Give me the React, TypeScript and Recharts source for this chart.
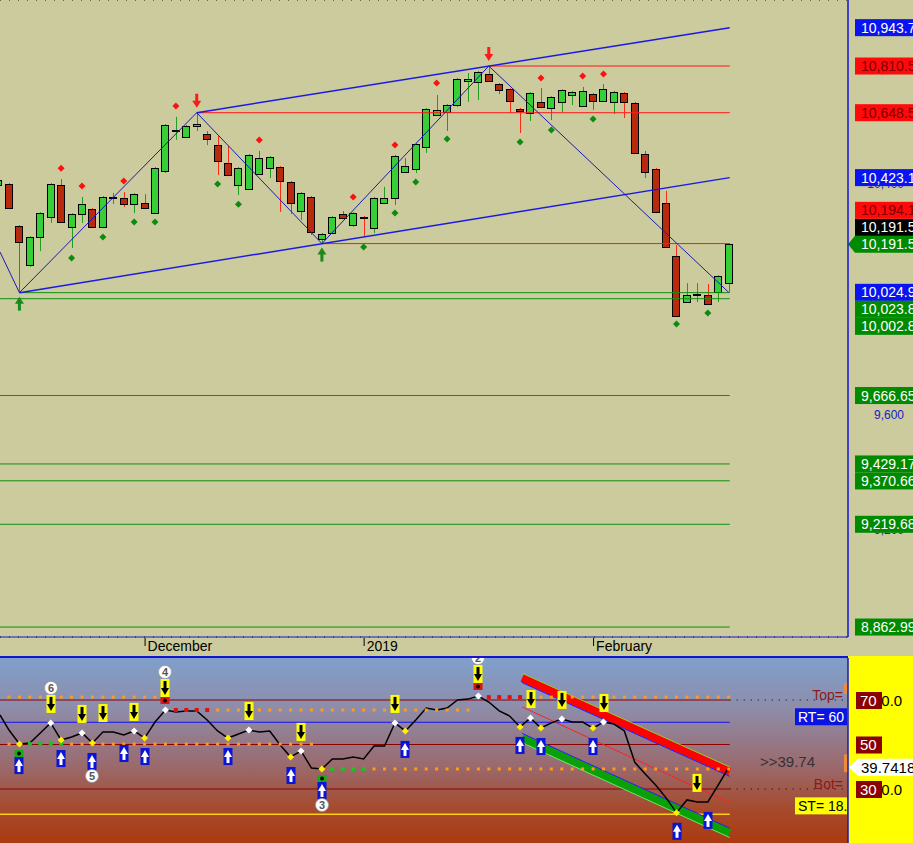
import React from 'react';
import {
  ComposedChart,
  Bar,
  Line,
  Scatter,
  XAxis,
  YAxis,
  ReferenceLine,
  CartesianGrid,
} from 'recharts';

const FONT = '"Liberation Sans", Arial, sans-serif';

// ---------- price panel data (bar index -1 is the half-visible bar at the left edge) ----------
const FIRST_BAR = -1;
const OPEN = [
  10397, 10401, 10255, 10120, 10217, 10286, 10398, 10252, 10297, 10314, 10252,
  10354, 10352, 10332, 10335, 10300, 10446, 10587, 10564, 10602, 10575,
  10536, 10474, 10398, 10384, 10436, 10457, 10460, 10408, 10307, 10356,
  10210, 10231, 10297, 10259, 10286, 10248, 10335, 10352, 10443, 10453,
  10529, 10640, 10651, 10675, 10758, 10755, 10783, 10748, 10731, 10661,
  10647, 10686, 10665, 10686, 10710, 10672, 10713, 10689, 10686, 10717,
  10682, 10505, 10453, 10335, 10151, 9991, 10017, 10016, 10026, 10057,
];
const HIGH = [
  10420, 10404, 10258, 10220, 10303, 10404, 10418, 10300, 10356, 10318, 10359,
  10370, 10373, 10369, 10366, 10460, 10609, 10634, 10606, 10648.5, 10585,
  10568, 10533, 10460, 10505, 10516, 10498, 10463, 10411, 10373, 10359,
  10231, 10290, 10307, 10303, 10290, 10356, 10391, 10502, 10491, 10543,
  10665, 10710, 10679, 10769, 10786, 10793, 10810.5, 10751, 10734, 10665,
  10720, 10734, 10706, 10730, 10724, 10738, 10717, 10748, 10724, 10720,
  10686, 10516, 10457, 10377, 10189, 10057, 10057, 10054, 10085, 10196,
];
const LOW = [
  10390, 10314, 10023.8, 10113, 10168, 10266, 10266, 10179, 10266, 10248, 10248,
  10332, 10321, 10300, 10314, 10297, 10439, 10554, 10560, 10585, 10536,
  10432, 10428, 10363, 10380, 10432, 10422, 10304, 10297, 10276, 10224,
  10194.1, 10227, 10279, 10252, 10217, 10231, 10332, 10328, 10439, 10439,
  10509, 10637, 10585, 10668, 10686, 10693, 10755, 10713, 10647, 10578,
  10620, 10665, 10623, 10651, 10675, 10668, 10658, 10686, 10644, 10630,
  10505, 10422, 10300, 10179, 9939, 9988, 9991, 9981, 9991, 10023,
];
const CLOSE = [
  10415, 10318, 10200, 10217, 10300, 10401, 10269, 10297, 10332, 10252, 10356,
  10357, 10332, 10366, 10318, 10457, 10606, 10590, 10602, 10609, 10557,
  10481, 10432, 10457, 10502, 10491, 10495, 10411, 10335, 10370, 10234,
  10227, 10286, 10283, 10300, 10283, 10352, 10352, 10498, 10463, 10540,
  10661, 10658, 10675, 10765, 10765, 10790, 10758, 10727, 10689, 10654,
  10717, 10668, 10703, 10727, 10720, 10724, 10689, 10731, 10720, 10686,
  10509, 10443, 10304, 10182, 9943, 10016, 10020, 9984, 10082, 10191.5,
];

const MONTH_TICKS = [13, 34, 56];
const MONTH_LABELS = ['December', '2019', 'February'];
const PRICE_TICKS = [9200, 9600, 10000, 10400, 10800];

const RED_DOT_BARS = [5, 7, 11, 16, 24, 33, 37, 41, 51, 55, 57];
const RED_DOT_PRICES = [10456, 10394, 10411, 10672, 10554, 10356, 10536, 10752, 10769, 10776, 10783];
const GREEN_DOT_BARS = [6, 9, 12, 14, 20, 22, 34, 37, 39, 42, 49, 52, 56, 64, 67];
const GREEN_DOT_PRICES = [10144, 10217, 10269, 10269, 10401, 10331, 10182, 10300, 10408, 10557, 10547, 10588, 10627, 9915, 9953];

const PIVOT_HIGH_BARS = [18, 46];
const PIVOT_LOW_BARS = [1, 30];

const ZIGZAG_BARS = [-0.863, 1, 18, 30, 46, 69];
const ZIGZAG_PRICES = [10165, 10023.8, 10648.5, 10194.1, 10810.5, 10024.9];

const UPPER_CHANNEL = [[18, 10648.5], [69.1, 10943.7]];
const LOWER_CHANNEL = [[1, 10023.8], [69.1, 10423.1]];

const RED_LEVELS = [[46, 10810.5], [18, 10648.5], [30, 10194.1]];
const GREEN_LEVELS = [
  [1, 10023.8], [-0.863, 10002.8], [-0.863, 9666.65], [-0.863, 9429.17],
  [-0.863, 9370.66], [-0.863, 9219.68], [-0.863, 8862.99],
];

// right-hand price tags, in the order they claim their slot
const PRICE_TAGS = [
  { price: 10943.7, text: '10,943.7', tone: 'blue' },
  { price: 10810.5, text: '10,810.5', tone: 'red' },
  { price: 10648.5, text: '10,648.5', tone: 'red' },
  { price: 10423.1, text: '10,423.1', tone: 'blue' },
  { price: 10191.5, text: '10,191.5', tone: 'current' },
  { price: 10191.5, text: '10,191.5', tone: 'black' },
  { price: 10194.1, text: '10,194.1', tone: 'red' },
  { price: 10024.9, text: '10,024.9', tone: 'blue' },
  { price: 10023.8, text: '10,023.8', tone: 'green' },
  { price: 10002.8, text: '10,002.8', tone: 'green' },
  { price: 9666.65, text: '9,666.65', tone: 'green' },
  { price: 9429.17, text: '9,429.17', tone: 'green' },
  { price: 9370.66, text: '9,370.66', tone: 'green' },
  { price: 9219.68, text: '9,219.68', tone: 'green' },
  { price: 8862.99, text: '8,862.99', tone: 'green' },
];

// ---------- oscillator panel data ----------
const OSC_LEAD = 63.3; // value where the line enters at the left edge
const OSC = [
  56.5, 50.2, 50.7, 55.2, 59.7, 52.0, 53.4, 55.2, 50.7, 55.6,
  55.6, 54.3, 56.1, 52.9, 60.1, 65.5, 64.6, 65.1, 65.1, 61.0,
  56.1, 52.9, 54.7, 56.5, 55.6, 56.1, 49.8, 44.4, 47.1, 39.4,
  39.0, 43.5, 43.5, 44.4, 43.5, 49.3, 49.3, 59.7, 56.1, 61.0,
  66.4, 65.5, 66.4, 70.0, 70.4, 71.8, 69.1, 65.1, 62.8, 57.9,
  61.9, 57.4, 59.7, 61.5, 60.1, 60.1, 57.4, 60.1, 59.2, 56.1,
  42.0, 36.7, 31.8, 26.0, 19.3, 25.1, 24.2, 24.2, 31.8, 39.7418,
];
const OSC_PEAKS = [4, 7, 12, 15, 23, 28, 37, 45, 50, 53, 57];
const OSC_TROUGHS = [1, 5, 8, 13, 21, 27, 30, 38, 49, 51, 56, 64];
const SELL_BARS = [4, 7, 9, 12, 15, 23, 28, 37, 45, 50, 53, 57, 66];
const BUY_BARS = [1, 5, 8, 11, 13, 21, 27, 30, 38, 49, 51, 56, 64, 67];
const SELL_CONFIRM = [15, 45];
const BUY_CONFIRM = [1, 30];
const SIGNAL_NUMBERS = [[4, '6'], [15, '4'], [45, '2'], [8, '5'], [30, '3']];

const UPPER_STEPS = [[0, 71.3], [16, 65.5], [46, 71.3]];
const UPPER_SKIP = [15, 45];
const UPPER_FRESH = [16, 17, 18, 19, 46, 47, 48, 49];
const LOWER_STEPS = [[0, 50.2], [31, 39.0]];
const LOWER_SKIP = [30];
const LOWER_FRESH = [2, 3, 4, 5, 31, 32, 33, 34];

const CHANNEL_BARS = [49.2, 69.1];
const RED_BAND = [79.9, 37.8];
const RED_BAND_UPPER = [82.0, 39.9];
const RED_BAND_LOWER = [77.8, 35.7];
const RED_MID_LINE = [66.9, 23.7];
const GREEN_BAND = [52.9, 10.3];
const GREEN_BAND_UPPER = [55.0, 12.4];
const GREEN_BAND_LOWER = [50.8, 8.2];

const OSC_TOP = 70;
const OSC_MID = 50;
const OSC_BOT = 30;
const RT_LEVEL = 60;
const ST_LEVEL = 18.6;
const OSC_LAST = 39.7418;

// ---------- layout ----------
const W = 913;
const AXIS_W = 65;
const TOP_H = 656;
const X_AXIS_H = 19;
const BOT_H = 185;
const X_DOMAIN: [number, number] = [-0.863, 80.44];
const LEVEL_END = 69.1;
const PRICE_DOMAIN: [number, number] = [8828.4, 11039.7];
const OSC_DOMAIN: [number, number] = [5.73, 88.88];
const TAG_PX = 17;

const KHAKI = '#cbcb9d';
const AXIS_BLUE = '#1414d2';

const candles = OPEN.map((o, k) => ({
  i: FIRST_BAR + k,
  o,
  h: HIGH[k],
  l: LOW[k],
  c: CLOSE[k],
  range: [LOW[k], HIGH[k]],
}));
const candleAt = (i: number) => candles[i - FIRST_BAR];

const redDots = RED_DOT_BARS.map((i, k) => ({ i, v: RED_DOT_PRICES[k] }));
const greenDots = GREEN_DOT_BARS.map((i, k) => ({ i, v: GREEN_DOT_PRICES[k] }));
const pivotHighs = PIVOT_HIGH_BARS.map((i) => ({ i, v: candleAt(i).h }));
const pivotLows = PIVOT_LOW_BARS.map((i) => ({ i, v: candleAt(i).l }));
const zigzag = ZIGZAG_BARS.map((i, k) => ({ i, v: ZIGZAG_PRICES[k] }));

function layoutTags() {
  const step = (TAG_PX * (PRICE_DOMAIN[1] - PRICE_DOMAIN[0])) / (TOP_H - X_AXIS_H);
  const placed: { price: number; shown: number }[] = [];
  return PRICE_TAGS.map((t) => {
    let shown = t.price;
    for (let n = 0; n < 20; n++) {
      const hit = placed.find((p) => Math.abs(p.shown - shown) < step - 1e-6);
      if (!hit) break;
      shown = hit.shown + (t.price < hit.price ? -step : step);
    }
    placed.push({ price: t.price, shown });
    return { ...t, shown };
  });
}
const tags = layoutTags();

const oscRows = [{ i: X_DOMAIN[0], v: OSC_LEAD }, ...OSC.map((v, i) => ({ i, v }))];
const pick = (bars: number[]) => bars.map((i) => ({ i, v: OSC[i] }));
const numberAt = (i: number) => {
  const hit = SIGNAL_NUMBERS.find((s) => s[0] === i);
  return hit ? String(hit[1]) : null;
};
const sells = SELL_BARS.map((i) => ({ i, v: OSC[i], confirm: SELL_CONFIRM.includes(i), num: numberAt(i) }));
const buys = BUY_BARS.map((i) => ({ i, v: OSC[i], confirm: BUY_CONFIRM.includes(i), num: numberAt(i) }));

function stepDots(steps: number[][], skip: number[], fresh: number[]) {
  const out: { i: number; v: number; fresh: boolean }[] = [];
  for (let i = 0; i < OSC.length; i++) {
    if (skip.includes(i)) continue;
    let v = steps[0][1];
    for (const [s, val] of steps) if (i >= s) v = val;
    out.push({ i, v, fresh: fresh.includes(i) });
  }
  return out;
}
const upperDots = stepDots(UPPER_STEPS, UPPER_SKIP, UPPER_FRESH);
const lowerDots = stepDots(LOWER_STEPS, LOWER_SKIP, LOWER_FRESH);

const chSeg = (vals: number[]) => [
  { x: CHANNEL_BARS[0], y: vals[0] },
  { x: CHANNEL_BARS[1], y: vals[1] },
];

// ---------- shapes ----------
function renderCandle(p: any) {
  const { x, y, width, height, payload } = p;
  if (!payload || !Number.isFinite(y) || !Number.isFinite(height)) return <g />;
  const { o, h, l, c } = payload;
  const top = Math.min(y, y + height);
  const span = Math.abs(height);
  const k = h > l ? span / (h - l) : 0;
  const cx = Math.round(x + width / 2) + 0.5;
  const yo = top + (h - o) * k;
  const yc = top + (h - c) * k;
  const up = c >= o;
  const bodyTop = Math.round(Math.min(yo, yc)) + 0.5;
  const bodyH = Math.max(Math.round(Math.abs(yo - yc)), 1);
  return (
    <g>
      <line x1={cx} x2={cx} y1={top} y2={top + span} stroke={up ? '#1f9d1f' : '#ff2a14'} strokeWidth={1} />
      <rect x={cx - 4} y={bodyTop} width={7} height={bodyH} fill={up ? '#36cf36' : '#b82a0e'} stroke="#000" strokeWidth={1} />
    </g>
  );
}

const diamond = (fill: string, r: number, stroke = 'none') => (p: any) => (
  <path
    d={`M${p.cx},${p.cy - r}L${p.cx + r},${p.cy}L${p.cx},${p.cy + r}L${p.cx - r},${p.cy}Z`}
    fill={fill}
    stroke={stroke}
    strokeWidth={0.6}
  />
);

const downArrow = (p: any) => {
  const cx = p.cx;
  const tip = p.cy - 5;
  return (
    <g fill="#ff1a1a">
      <rect x={cx - 1.5} y={tip - 14} width={3} height={8} />
      <path d={`M${cx - 4.5},${tip - 7}L${cx + 4.5},${tip - 7}L${cx},${tip}Z`} />
    </g>
  );
};

const upArrow = (p: any) => {
  const cx = p.cx;
  const tip = p.cy + 4;
  return (
    <g fill="#1a8a1a">
      <path d={`M${cx - 4.5},${tip + 7}L${cx + 4.5},${tip + 7}L${cx},${tip}Z`} />
      <rect x={cx - 1.5} y={tip + 6} width={3} height={8} />
    </g>
  );
};

const numberBadge = (cx: number, cy: number, n: string) => (
  <g>
    <circle cx={cx} cy={cy} r={6.5} fill="#fff" stroke="#9a9a9a" strokeWidth={0.8} />
    <text x={cx} y={cy + 4} textAnchor="middle" fontSize={11} fontWeight="bold" fill="#555" fontFamily={FONT}>
      {n}
    </text>
  </g>
);

const sellShape = (p: any) => {
  const cx = Math.round(p.cx);
  const { confirm, num } = p.payload;
  let bottom = p.cy - (confirm ? 6 : 10);
  const parts: React.ReactNode[] = [];
  if (confirm) {
    parts.push(<rect key="c" x={cx - 4.5} y={bottom - 7} width={9} height={7} fill="#e01010" />);
    parts.push(<circle key="cd" cx={cx} cy={bottom - 3.5} r={2} fill="#000" />);
    bottom -= 7;
  }
  parts.push(<rect key="b" x={cx - 4.5} y={bottom - 18} width={9} height={18} fill="#ffff00" />);
  parts.push(<rect key="s" x={cx - 1.5} y={bottom - 16} width={3} height={8} fill="#000" />);
  parts.push(<path key="h" d={`M${cx - 4},${bottom - 9}L${cx + 4},${bottom - 9}L${cx},${bottom - 2}Z`} fill="#000" />);
  if (num) parts.push(<g key="n">{numberBadge(cx, bottom - 25, num)}</g>);
  return <g>{parts}</g>;
};

const buyShape = (p: any) => {
  const cx = Math.round(p.cx);
  const { confirm, num } = p.payload;
  let top = p.cy + (confirm ? 6 : 10);
  const parts: React.ReactNode[] = [];
  if (confirm) {
    parts.push(<rect key="c" x={cx - 4.5} y={top} width={9} height={7} fill="#10b010" />);
    parts.push(<circle key="cd" cx={cx} cy={top + 3.5} r={2} fill="#000" />);
    top += 7;
  }
  parts.push(<rect key="b" x={cx - 4.5} y={top} width={9} height={17} fill="#0a14d8" />);
  parts.push(<path key="h" d={`M${cx - 4},${top + 9}L${cx + 4},${top + 9}L${cx},${top + 2}Z`} fill="#fff" />);
  parts.push(<rect key="s" x={cx - 1.5} y={top + 8} width={3} height={7} fill="#fff" />);
  if (num) parts.push(<g key="n">{numberBadge(cx, top + 23, num)}</g>);
  return <g>{parts}</g>;
};

const levelDot = (freshColor: string) => (p: any) => {
  const fresh = p.payload.fresh;
  const s = fresh ? 4 : 3;
  return <rect x={p.cx - s / 2} y={p.cy - s / 2} width={s} height={s} fill={fresh ? freshColor : '#ff9a1e'} />;
};

// ---------- ticks and tags ----------
const MonthTick = (props: any) => {
  const { x, y, payload } = props;
  const k = MONTH_TICKS.indexOf(payload.value);
  return (
    <g>
      <line x1={x + 0.5} x2={x + 0.5} y1={y + 1} y2={y + 9} stroke="#000" />
      <text x={x + 3} y={y + 14} fontSize={14} fill="#000" fontFamily={FONT}>
        {MONTH_LABELS[k]}
      </text>
    </g>
  );
};

// axis numbers are drawn as reference labels so the price tags can cover them
const priceTickLabel = (value: number) => (p: any) => {
  const vb = p.viewBox;
  if (!vb) return null;
  const r = vb.x + vb.width;
  return (
    <text x={r + 56} y={vb.y + 4} textAnchor="end" fontSize={12} fill="#2020c0" fontFamily={FONT}>
      {value.toLocaleString('en-US')}
    </text>
  );
};

const TAG_COLORS: Record<string, [string, string]> = {
  blue: ['#0a14f0', '#ffffff'],
  red: ['#ff0a0a', '#7a0000'],
  green: ['#008a00', '#ffffff'],
  black: ['#000000', '#ffffff'],
  current: ['#008a00', '#ffffff'],
};

function PriceTag({ viewBox, tag }: any) {
  if (!viewBox) return null;
  const right = viewBox.x + viewBox.width;
  const yc = viewBox.y;
  const [bg, fg] = TAG_COLORS[tag.tone];
  const left = right + 7;
  return (
    <g>
      {tag.tone === 'current' ? (
        <path d={`M${right},${yc}L${left},${yc - 8.5}L${W},${yc - 8.5}L${W},${yc + 8.5}L${left},${yc + 8.5}Z`} fill={bg} />
      ) : (
        <rect x={left} y={yc - 8.5} width={W - left} height={17} fill={bg} />
      )}
      <text x={left + 6} y={yc + 5} fontSize={14} fill={fg} fontFamily={FONT}>
        {tag.text}
      </text>
    </g>
  );
}

const boxLabel = (text: string, tail: string | null, note: string | null) => (p: any) => {
  const vb = p.viewBox;
  if (!vb) return null;
  const r = vb.x + vb.width;
  const y = vb.y;
  return (
    <g fontFamily={FONT}>
      {note && (
        <text x={r - 5} y={y} textAnchor="end" fontSize={14} fill="#8b1a1a">
          {note}
        </text>
      )}
      {tail && (
        <text x={r + 25} y={y + 5.5} fontSize={15} fill="#000">
          {tail}
        </text>
      )}
      <rect x={r + 8} y={y - 8} width={26} height={17} fill="#8b0000" />
      <text x={r + 12} y={y + 5.5} fontSize={15} fill="#fff">
        {text}
      </text>
    </g>
  );
};

const rtLabel = (p: any) => {
  const vb = p.viewBox;
  if (!vb) return null;
  const r = vb.x + vb.width;
  const y = vb.y;
  return (
    <g fontFamily={FONT}>
      <rect x={r - 53} y={y - 14} width={52} height={17} fill="#0a14e0" />
      <text x={r - 50} y={y - 0.5} fontSize={14} fill="#fff">
        RT= 60
      </text>
    </g>
  );
};

const stLabel = (p: any) => {
  const vb = p.viewBox;
  if (!vb) return null;
  const r = vb.x + vb.width;
  const y = vb.y;
  return (
    <g fontFamily={FONT}>
      <defs>
        <clipPath id="st-clip">
          <rect x={r - 53} y={y - 17} width={52} height={17} />
        </clipPath>
      </defs>
      <rect x={r - 53} y={y - 17} width={52} height={17} fill="#ffff00" />
      <text x={r - 50} y={y - 3.5} fontSize={14} fill="#000" clipPath="url(#st-clip)">
        {`ST= ${ST_LEVEL}`}
      </text>
    </g>
  );
};

const lastLabel = (p: any) => {
  const vb = p.viewBox;
  if (!vb) return null;
  const r = vb.x + vb.width;
  const y = vb.y;
  return (
    <g fontFamily={FONT}>
      <text x={r - 88} y={y} fontSize={15} fill="#333">
        {`>>${OSC_LAST.toFixed(2)}`}
      </text>
      <rect x={r - 4} y={y - 13} width={4} height={18} fill="#f08a3c" />
      <path d={`M${r + 1},${y}L${r + 10},${y - 8.5}L${W},${y - 8.5}L${W},${y + 8.5}L${r + 10},${y + 8.5}Z`} fill="#fff" />
      <text x={r + 13} y={y + 5.5} fontSize={15} fill="#000">
        {String(OSC_LAST)}
      </text>
    </g>
  );
};

const topMarker = (p: any) => {
  const vb = p.viewBox;
  if (!vb) return null;
  const r = vb.x + vb.width;
  return <rect x={r - 4} y={vb.y - 17} width={4} height={11} fill="#f08a3c" />;
};

// ---------- panels ----------
function PricePanel() {
  return (
    <ComposedChart width={W} height={TOP_H} data={candles} margin={{ top: 0, right: 0, bottom: 0, left: 0 }}>
      <CartesianGrid vertical={false} stroke="#000" strokeDasharray="1 8" />
      <XAxis
        type="number"
        dataKey="i"
        domain={X_DOMAIN}
        allowDataOverflow
        ticks={MONTH_TICKS}
        interval={0}
        height={X_AXIS_H}
        axisLine={{ stroke: AXIS_BLUE }}
        tickLine={false}
        tickSize={0}
        tickMargin={0}
        tick={<MonthTick />}
      />
      <YAxis
        orientation="right"
        width={AXIS_W}
        domain={PRICE_DOMAIN}
        allowDataOverflow
        ticks={PRICE_TICKS}
        interval={0}
        axisLine={{ stroke: AXIS_BLUE, strokeWidth: 1.5 }}
        tickLine={{ stroke: '#000' }}
        tickSize={5}
        tick={false}
      />
      {GREEN_LEVELS.map(([from, price], k) => (
        <ReferenceLine
          key={`g${k}`}
          ifOverflow="visible"
          segment={[{ x: from, y: price }, { x: LEVEL_END, y: price }]}
          stroke="#119011"
          strokeWidth={1}
        />
      ))}
      {RED_LEVELS.map(([from, price], k) => (
        <ReferenceLine
          key={`r${k}`}
          ifOverflow="visible"
          segment={[{ x: from, y: price }, { x: LEVEL_END, y: price }]}
          stroke="#ff1a1a"
          strokeWidth={1}
        />
      ))}
      {[UPPER_CHANNEL, LOWER_CHANNEL].map((ch, k) => (
        <ReferenceLine
          key={`ch${k}`}
          ifOverflow="visible"
          segment={[{ x: ch[0][0], y: ch[0][1] }, { x: ch[1][0], y: ch[1][1] }]}
          stroke="#1a1ae6"
          strokeWidth={1.5}
        />
      ))}
      <Line data={zigzag} dataKey="v" stroke="#1a1ab4" strokeWidth={1} dot={false} activeDot={false} isAnimationActive={false} />
      <Bar dataKey="range" barSize={8} shape={renderCandle} isAnimationActive={false} />
      <Scatter data={redDots} dataKey="v" shape={diamond('#ff1010', 3.5)} isAnimationActive={false} />
      <Scatter data={greenDots} dataKey="v" shape={diamond('#0c8c0c', 3.5)} isAnimationActive={false} />
      <Scatter data={pivotHighs} dataKey="v" shape={downArrow} isAnimationActive={false} />
      <Scatter data={pivotLows} dataKey="v" shape={upArrow} isAnimationActive={false} />
      {PRICE_TICKS.map((v) => (
        <ReferenceLine key={`pt${v}`} y={v} stroke="none" ifOverflow="visible" label={priceTickLabel(v)} />
      ))}
      {tags.map((t, k) => (
        <ReferenceLine
          key={`t${k}`}
          y={t.shown}
          stroke="none"
          ifOverflow="visible"
          label={(p: any) => <PriceTag viewBox={p.viewBox} tag={t} />}
        />
      ))}
    </ComposedChart>
  );
}

function OscPanel() {
  const hLine = (v: number, color: string, width = 1) => (
    <ReferenceLine
      ifOverflow="visible"
      segment={[{ x: X_DOMAIN[0], y: v }, { x: LEVEL_END, y: v }]}
      stroke={color}
      strokeWidth={width}
    />
  );
  const dotted = (v: number) => (
    <ReferenceLine
      ifOverflow="visible"
      segment={[{ x: LEVEL_END, y: v }, { x: X_DOMAIN[1], y: v }]}
      stroke="#000"
      strokeDasharray="1 6"
    />
  );
  return (
    <ComposedChart width={W} height={BOT_H} data={oscRows} margin={{ top: 0, right: 0, bottom: 0, left: 0 }}>
      <XAxis type="number" dataKey="i" domain={X_DOMAIN} allowDataOverflow hide />
      <YAxis
        orientation="right"
        width={AXIS_W}
        domain={OSC_DOMAIN}
        allowDataOverflow
        tick={false}
        tickLine={false}
        axisLine={{ stroke: AXIS_BLUE, strokeWidth: 1.5 }}
      />
      {hLine(OSC_TOP, '#8b0000')}
      {hLine(RT_LEVEL, '#1010ff')}
      {hLine(OSC_MID, '#8b0000')}
      {hLine(OSC_BOT, '#8b0000')}
      {hLine(ST_LEVEL, '#ffcf10', 1.5)}
      {dotted(OSC_TOP)}
      {dotted(OSC_BOT)}
      <ReferenceLine ifOverflow="visible" segment={chSeg(RED_BAND)} stroke="#ff0000" strokeWidth={8} />
      <ReferenceLine ifOverflow="visible" segment={chSeg(RED_BAND_UPPER)} stroke="#9cc820" strokeWidth={1} />
      <ReferenceLine ifOverflow="visible" segment={chSeg(RED_BAND_LOWER)} stroke="#2020ff" strokeWidth={1} />
      <ReferenceLine ifOverflow="visible" segment={chSeg(RED_MID_LINE)} stroke="#ff2020" strokeWidth={1} />
      <ReferenceLine ifOverflow="visible" segment={chSeg(GREEN_BAND)} stroke="#0aa00a" strokeWidth={8} />
      <ReferenceLine ifOverflow="visible" segment={chSeg(GREEN_BAND_UPPER)} stroke="#2020ff" strokeWidth={1} />
      <ReferenceLine ifOverflow="visible" segment={chSeg(GREEN_BAND_LOWER)} stroke="#60f060" strokeWidth={1} />
      <Scatter data={upperDots} dataKey="v" shape={levelDot('#e01010')} isAnimationActive={false} />
      <Scatter data={lowerDots} dataKey="v" shape={levelDot('#20c020')} isAnimationActive={false} />
      <Line dataKey="v" stroke="#000" strokeWidth={1.5} dot={false} activeDot={false} isAnimationActive={false} />
      <Scatter data={sells} dataKey="v" shape={sellShape} isAnimationActive={false} />
      <Scatter data={buys} dataKey="v" shape={buyShape} isAnimationActive={false} />
      <Scatter data={pick(OSC_PEAKS)} dataKey="v" shape={diamond('#ffffff', 3.5)} isAnimationActive={false} />
      <Scatter data={pick(OSC_TROUGHS)} dataKey="v" shape={diamond('#ffee00', 3.5)} isAnimationActive={false} />
      <ReferenceLine y={OSC_TOP} stroke="none" ifOverflow="visible" label={boxLabel('70', '70.0', 'Top=')} />
      <ReferenceLine y={OSC_TOP} stroke="none" ifOverflow="visible" label={topMarker} />
      <ReferenceLine y={OSC_MID} stroke="none" ifOverflow="visible" label={boxLabel('50', null, null)} />
      <ReferenceLine y={OSC_BOT} stroke="none" ifOverflow="visible" label={boxLabel('30', '30.0', 'Bot=')} />
      <ReferenceLine y={RT_LEVEL} stroke="none" ifOverflow="visible" label={rtLabel} />
      <ReferenceLine y={ST_LEVEL} stroke="none" ifOverflow="visible" label={stLabel} />
      <ReferenceLine y={OSC_LAST} stroke="none" ifOverflow="visible" label={lastLabel} />
    </ComposedChart>
  );
}

export default function App() {
  return (
    <div style={{ position: 'absolute', left: 0, top: 0, width: W, height: 843, overflow: 'hidden', fontFamily: FONT }}>
      <div style={{ position: 'absolute', left: 0, top: 0, width: W, height: TOP_H, background: KHAKI }}>
        <PricePanel />
      </div>
      <div style={{ position: 'absolute', left: 0, top: TOP_H, width: W - AXIS_W, height: 2, background: AXIS_BLUE }} />
      <div style={{ position: 'absolute', left: W - AXIS_W, top: TOP_H, width: AXIS_W, height: 2, background: '#ffff00' }} />
      <div style={{ position: 'absolute', left: 0, top: TOP_H + 2, width: W, height: BOT_H }}>
        <div
          style={{
            position: 'absolute',
            left: 0,
            top: 0,
            width: W - AXIS_W,
            height: BOT_H,
            background: 'linear-gradient(180deg, #7fa0cc 0%, #8e8ca8 28%, #9a6a6e 58%, #a64a2c 82%, #ab3a10 100%)',
          }}
        />
        <div style={{ position: 'absolute', left: W - AXIS_W, top: 0, width: AXIS_W, height: BOT_H, background: '#ffff00' }} />
        <div style={{ position: 'absolute', left: 0, top: 0 }}>
          <OscPanel />
        </div>
      </div>
    </div>
  );
}
